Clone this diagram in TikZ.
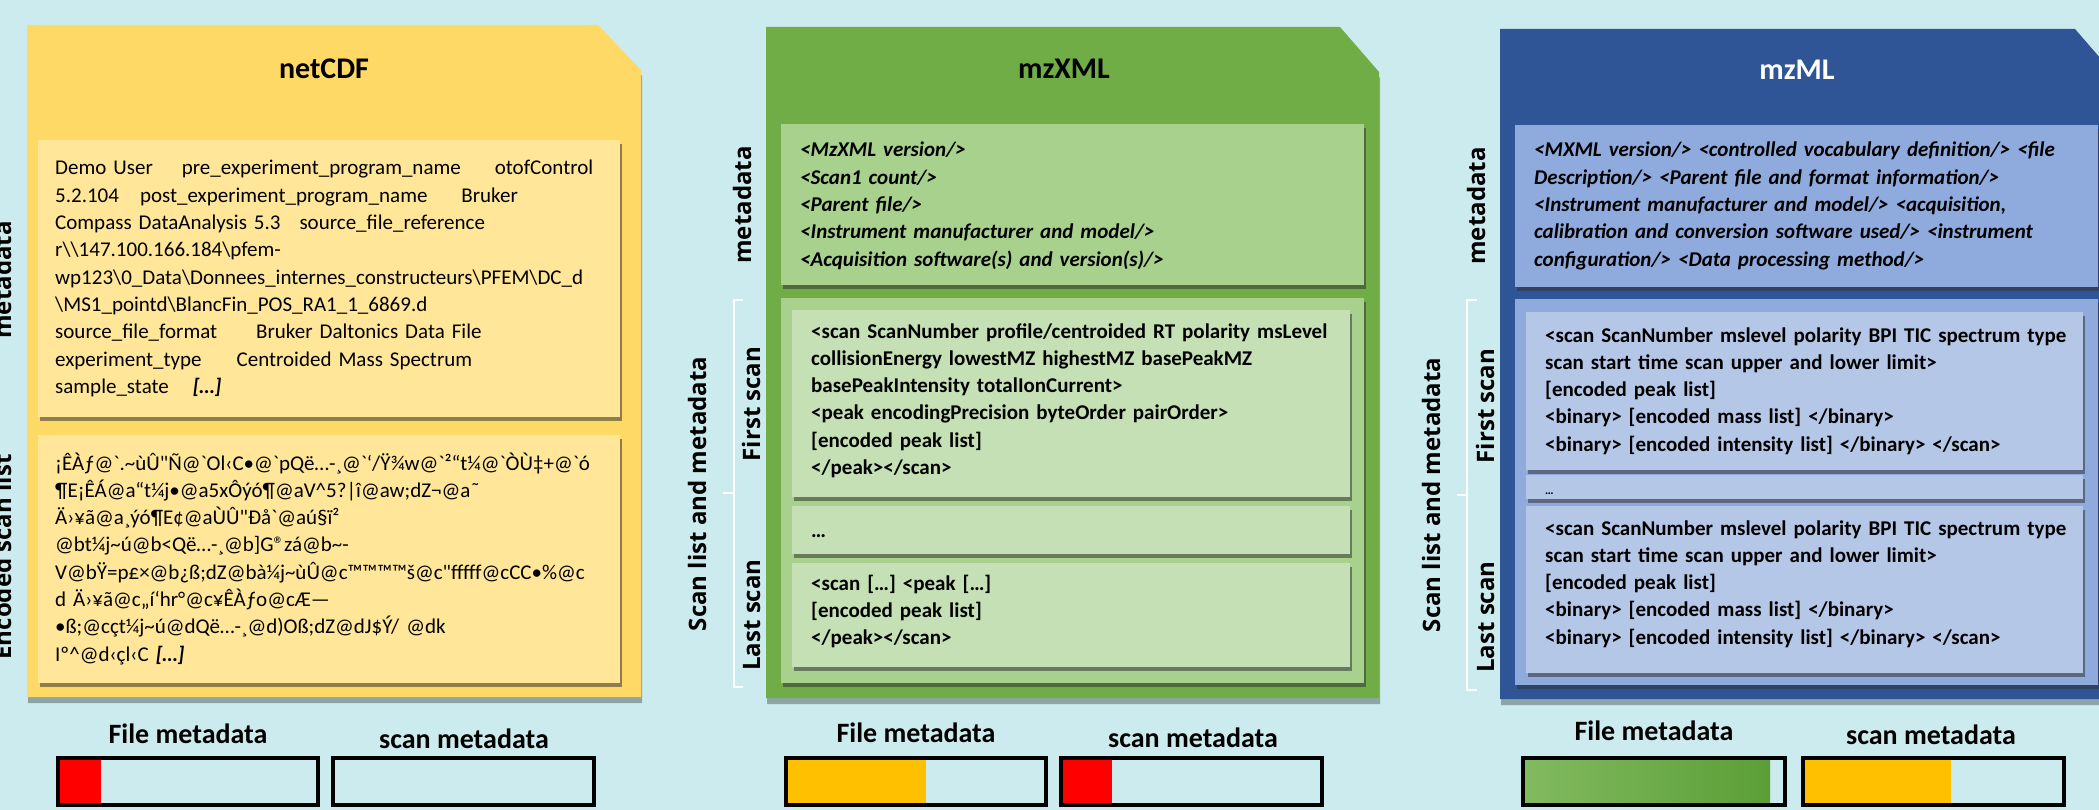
\documentclass[tikz,border=0pt]{standalone}
\usepackage{fontspec}
\setmainfont{Carlito}
\newfontfamily\rawfont{Carlito}
\newfontfamily\sidefont{Open Sans}
\usepackage{tikz}
\usetikzlibrary{shadows}

\definecolor{bgcyan}{HTML}{CCEBEE}
\definecolor{goldpanel}{HTML}{FFD966}
\definecolor{goldbox}{HTML}{FFE699}
\definecolor{greenpanel}{HTML}{70AD47}
\definecolor{greenbox}{HTML}{A9D18E}
\definecolor{greenscan}{HTML}{C5E0B4}
\definecolor{bluepanel}{HTML}{2F5597}
\definecolor{bluebox}{HTML}{8FAADC}
\definecolor{bluescan}{HTML}{B4C7E7}
\definecolor{barorange}{HTML}{FFC000}
\definecolor{barred}{HTML}{FF0000}
\definecolor{bargreenA}{HTML}{82BA60}
\definecolor{bargreenB}{HTML}{5B9E36}

\newcommand\bksl{\textbackslash}
\hyphenpenalty=10000
\exhyphenpenalty=10000

\begin{document}
\begin{tikzpicture}[
        x=1pt, y=-1pt,
        fmtpanel/.style={drop shadow={shadow xshift=1pt, shadow yshift=-6pt, opacity=.3, fill=black}},
        innerbox/.style={drop shadow={shadow xshift=1.5pt, shadow yshift=-4pt, opacity=.55, fill=black!80}},
        bodytext/.style={anchor=base west, inner sep=0pt, text width=620pt, align=left, font=\fontsize{21}{27.3}\selectfont},
        fmttitle/.style={anchor=base, inner sep=0pt, font=\fontsize{30}{36}\selectfont\bfseries},
        sidelabel/.style={rotate=90, anchor=base, inner sep=0pt, font=\sidefont\bfseries\fontsize{24}{28}\selectfont},
        barlabel/.style={anchor=base, inner sep=0pt, font=\fontsize{28}{34}\selectfont\bfseries},
        barframe/.style={draw=black, line width=4pt},
        scanbrace/.style={draw=white, line width=2pt}
        ]

        \fill[bgcyan] (0,0) rectangle (2099,810);
        \useasboundingbox (0,0) rectangle (2099,810);

        \fill[goldpanel, fmtpanel] (27,25) -- (598,25) -- (641,70) -- (641,697) -- (27,697) -- cycle;
        \fill[goldbox, innerbox] (38,140) rectangle (620,417);
        \fill[goldbox, innerbox] (38,435) rectangle (620,683);
        \node[fmttitle] (nctitle) at (324,79) {netCDF};
        \node[bodytext] (ncmeta) at (55,175) {Demo User\hspace{29pt}pre\_experiment\_program\_name\hspace{34pt}otofControl\\
            5.2.104\hspace{21pt}post\_experiment\_program\_name\hspace{34pt}Bruker\\
            Compass DataAnalysis 5.3\hspace{19pt}source\_file\_reference\\
            r\bksl\bksl 147.100.166.184\bksl pfem-\\
            wp123\bksl 0\_Data\bksl Donnees\_internes\_constructeurs\bksl PFEM\bksl DC\_d\\
            \bksl MS1\_pointd\bksl BlancFin\_POS\_RA1\_1\_6869.d\\
            source\_file\_format\hspace{39pt}Bruker Daltonics Data File\\
            experiment\_type\hspace{35pt}Centroided Mass Spectrum\\
            sample\_state\hspace{24pt}\textbf{\textit{[…]}}};
        \node[bodytext, font=\rawfont\fontsize{21}{27.3}\selectfont] (ncscans) at (55,470) {¡ÊÀƒ@`.\textasciitilde{}ùÛ"Ñ@`Ol‹C•@`pQë…-¸@`‘/Ÿ¾w@`²“t¼@`ÒÙ‡+@`ó\\
            ¶E¡ÊÁ@a“t¼j•@a5xÔýó¶@aV\textasciicircum{}5?|î@aw;dZ¬@a˜\\
            Ä›¥ã@a¸ýó¶E¢@aÙÛ"Ðå`@aú§ï²\\
            @bt¼j\textasciitilde{}ú@b<Që…-¸@b]G®zá@b\textasciitilde{}-\\
            V@bŸ=p£×@b¿ß;dZ@bà¼j\textasciitilde{}ùÛ@c™™™™š@c"fffff@cCC•\%@c\\
            d Ä›¥ã@c„í‘hr°@c¥ÊÀƒo@cÆ—\\
            •ß;@cçt¼j\textasciitilde{}ú@dQë…-¸@d)Oß;dZ@dJ\$Ý/ @dk\\
            Iº\textasciicircum{}@d‹çl‹C {\bfseries\itshape […]}};
        \node[sidelabel] (ncmetalab) at (11,280) {metadata};
        \node[sidelabel] (ncscanlab) at (11,557) {Encoded scan list};

        \fill[greenpanel, fmtpanel] (766,27) -- (1340,27) -- (1379,72) -- (1379,698) -- (766,698) -- cycle;
        \fill[greenbox, innerbox] (781,124) rectangle (1364,285);
        \fill[greenbox, innerbox] (781,298) rectangle (1364,683);
        \fill[greenscan, innerbox] (792,310) rectangle (1350,497);
        \fill[greenscan, innerbox] (792,506) rectangle (1350,554);
        \fill[greenscan, innerbox] (792,563) rectangle (1350,667);
        \node[fmttitle] (xmltitle) at (1064,79) {mzXML};
        \node[bodytext, font=\fontsize{21}{27.3}\selectfont\bfseries\itshape] (xmlmeta) at (800,157) {<MzXML version/>\\
            <Scan1 count/>\\
            <Parent file/>\\
            <Instrument manufacturer and model/>\\
            <Acquisition software(s) and version(s)/>};
        \node[bodytext, font=\fontsize{21}{27.3}\selectfont\bfseries] (xmlfirst) at (811,338) {<scan ScanNumber profile/centroided RT polarity msLevel\\
            collisionEnergy lowestMZ highestMZ basePeakMZ\\
            basePeakIntensity totalIonCurrent>\\
            <peak encodingPrecision byteOrder pairOrder>\\
            {[encoded peak list]}\\
            </peak></scan>};
        \node[bodytext, font=\fontsize{21}{27.3}\selectfont\bfseries] (xmldots) at (811,537) {…};
        \node[bodytext, font=\fontsize{21}{27.3}\selectfont\bfseries] (xmllast) at (811,590) {<scan […] <peak […]\\
            {[encoded peak list]}\\
            </peak></scan>};
        \node[sidelabel] (xmlmetalab) at (751,205) {metadata};
        \node[sidelabel] (xmllistlab) at (706,494) {Scan list and metadata};
        \node[sidelabel] (xmlfirstlab) at (760,404) {First scan};
        \node[sidelabel] (xmllastlab) at (760,615) {Last scan};
        \draw[scanbrace] (743,300) -- (734,300) -- (734,687) -- (743,687);
        \draw[scanbrace] (734,493) -- (723,493);

        \fill[bluepanel, fmtpanel] (1500,29) -- (2075,29) -- (2114,74) -- (2114,699) -- (1500,699) -- cycle;
        \fill[bluebox, innerbox] (1515,125) rectangle (2098,287);
        \fill[bluebox, innerbox] (1515,299) rectangle (2098,685);
        \fill[bluescan, innerbox] (1526,312) rectangle (2083,470);
        \fill[bluescan, innerbox] (1526,475) rectangle (2083,499);
        \fill[bluescan, innerbox] (1526,506) rectangle (2083,673);
        \node[fmttitle, text=white] (mltitle) at (1797,80) {mzML};
        \node[bodytext, font=\fontsize{21}{27.3}\selectfont\bfseries\itshape] (mlmeta) at (1534,157) {<MXML version/> <controlled vocabulary definition/> <file\\
            Description/> <Parent file and format information/>\\
            <Instrument manufacturer and model/> <acquisition,\\
            calibration and conversion software used/> <instrument\\
            configuration/> <Data processing method/>};
        \node[bodytext, font=\fontsize{21}{27.3}\selectfont\bfseries] (mlfirst) at (1545,342) {<scan ScanNumber mslevel polarity BPI TIC spectrum type\\
            scan start time scan upper and lower limit>\\
            {[encoded peak list]}\\
            <binary> [encoded mass list] </binary>\\
            <binary> [encoded intensity list] </binary> </scan>};
        \node[bodytext, font=\fontsize{12}{14}\selectfont\bfseries] (mldots) at (1545,494) {…};
        \node[bodytext, font=\fontsize{21}{27.3}\selectfont\bfseries] (mllast) at (1545,535) {<scan ScanNumber mslevel polarity BPI TIC spectrum type\\
            scan start time scan upper and lower limit>\\
            {[encoded peak list]}\\
            <binary> [encoded mass list] </binary>\\
            <binary> [encoded intensity list] </binary> </scan>};
        \node[sidelabel] (mlmetalab) at (1485,206) {metadata};
        \node[sidelabel] (mllistlab) at (1440,495) {Scan list and metadata};
        \node[sidelabel] (mlfirstlab) at (1494,406) {First scan};
        \node[sidelabel] (mllastlab) at (1494,617) {Last scan};
        \draw[scanbrace] (1477,300) -- (1467,300) -- (1467,690) -- (1477,690);
        \draw[scanbrace] (1467,495) -- (1457,495);

        \fill[barred] (58,758) rectangle (101,805);
        \draw[barframe] (58,758) rectangle (318,805);
        \draw[barframe] (333,758) rectangle (594,805);
        \node[barlabel] (ncfilelab) at (188,743) {File metadata};
        \node[barlabel] (ncscanmeta) at (464,748) {scan metadata};

        \fill[barorange] (786,758) rectangle (926,805);
        \draw[barframe] (786,758) rectangle (1046,805);
        \fill[barred] (1061,758) rectangle (1112,805);
        \draw[barframe] (1061,758) rectangle (1322,805);
        \node[barlabel] (xmlfilelab) at (916,742) {File metadata};
        \node[barlabel] (xmlscanmeta) at (1193,747) {scan metadata};

        \shade[left color=bargreenA, right color=bargreenB] (1523,758) rectangle (1770,805);
        \draw[barframe] (1523,758) rectangle (1785,805);
        \fill[barorange] (1803,758) rectangle (1951,805);
        \draw[barframe] (1803,758) rectangle (2064,805);
        \node[barlabel] (mlfilelab) at (1654,740) {File metadata};
        \node[barlabel] (mlscanmeta) at (1931,744) {scan metadata};
    \end{tikzpicture}
\end{document}
